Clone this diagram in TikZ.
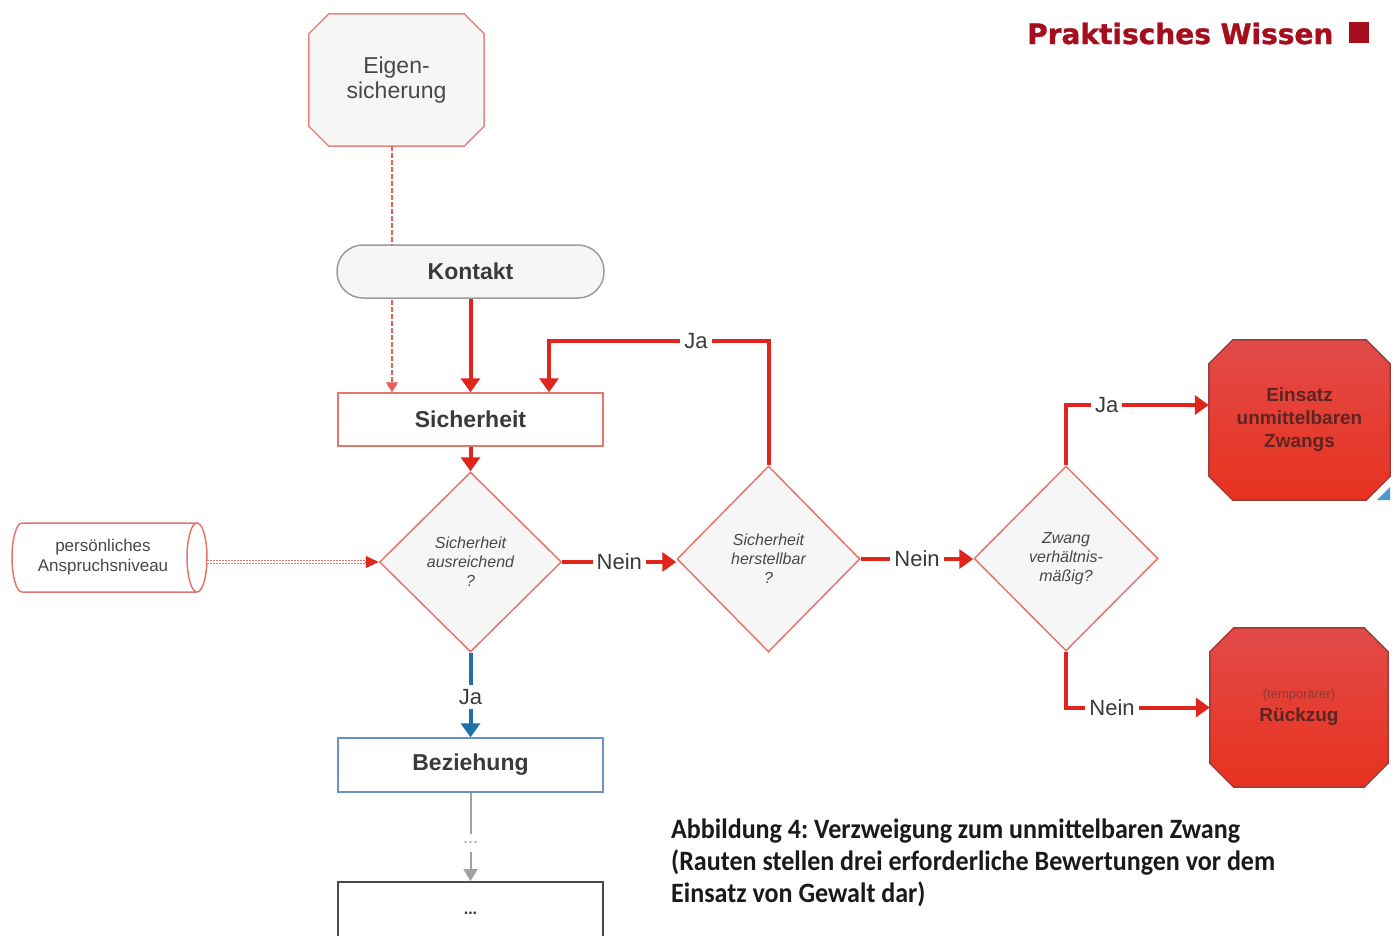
\documentclass[tikz,border=0pt]{standalone}
\usepackage{fontspec}
\setmainfont{Liberation Sans}
\newfontfamily\hdrfont[BoldFeatures={FakeBold=1.2}]{DejaVu Sans}
\newfontfamily\capfont[FakeStretch=0.93]{Carlito}
\usetikzlibrary{shapes.geometric,arrows.meta,calc,backgrounds}
\definecolor{lnred}{HTML}{E0261C}
\definecolor{salmon}{HTML}{E4776D}
\definecolor{salmonl}{HTML}{E8857E}
\definecolor{txtgray}{HTML}{3A3A3A}
\definecolor{diatxt}{HTML}{484848}
\definecolor{lightfill}{HTML}{F6F6F6}
\definecolor{kgray}{HTML}{9C9C9C}
\definecolor{bluel}{HTML}{1F6FA8}
\definecolor{bezblue}{HTML}{6C93BD}
\definecolor{hdrred}{HTML}{A50E1D}
\definecolor{octtop}{HTML}{E24A48}
\definecolor{octbot}{HTML}{E8321F}
\definecolor{octline}{HTML}{9A3E3A}
\definecolor{octtxt}{HTML}{5E2422}
\definecolor{octtxtl}{HTML}{8A3A36}
\definecolor{bluetri}{HTML}{4D96D0}
\definecolor{grayln}{HTML}{A0A0A0}
\definecolor{botline}{HTML}{4A4A4A}
\definecolor{captxt}{HTML}{1A1A1A}
\newcommand\octagon[3]{\path[#3] ($(#1.north west)+(#2,0pt)$) -- ($(#1.north east)+(-#2,0pt)$) -- ($(#1.north east)+(0pt,-#2)$) -- ($(#1.south east)+(0pt,#2)$) -- ($(#1.south east)+(-#2,0pt)$) -- ($(#1.south west)+(#2,0pt)$) -- ($(#1.south west)+(0pt,#2)$) -- ($(#1.north west)+(0pt,-#2)$) -- cycle;}
\begin{document}
\begin{tikzpicture}[x=1pt,y=-1pt,
  every node/.style={inner sep=0pt},
  box/.style={rectangle, minimum width=265pt, minimum height=53pt, font=\fontsize{23}{26}\selectfont\bfseries, text=txtgray, line width=1.5pt},
  dia/.style={diamond, draw=salmon, fill=lightfill, line width=1.5pt, align=center, font=\fontsize{16}{19}\selectfont\itshape, text=diatxt},
  redarrow/.style={draw=lnred, line width=4pt, -{Triangle[width=19pt,length=14pt]}},
  lbl/.style={fill=white, inner sep=4pt, font=\fontsize{22}{24}\selectfont, text=txtgray},
  octshape/.style={rectangle, align=center},
]
\useasboundingbox (0,0) rectangle (1394,935);
% nodes
\node[octshape, minimum width=175pt, minimum height=132pt, font=\fontsize{23}{25}\selectfont, text=diatxt] (eig) at (396.5,80) {Eigen-\\sicherung};
\node[box, draw=kgray, fill=lightfill, rounded corners=26pt, minimum width=267pt] (kon) at (470.5,271.5) {Kontakt};
\node[box, draw=salmon, fill=white] (sich) at (470.5,419.5) {Sicherheit};
\node[dia, minimum width=182pt, minimum height=180pt] (d1) at (470.5,562) {Sicherheit\\ausreichend\\?};
\node[dia, minimum width=183pt, minimum height=186pt] (d2) at (768.5,559) {Sicherheit\\herstellbar\\?};
\node[dia, minimum width=184pt, minimum height=185pt] (d3) at (1066,558.5) {Zwang\\verhältnis-\\mäßig?};
\node[rectangle, minimum width=182pt, minimum height=69pt, align=center, font=\fontsize{17}{20}\selectfont, text=diatxt] (cyl) at (103,557.5) {persönliches\\Anspruchsniveau};
\node[octshape, minimum width=181pt, minimum height=160pt, font=\fontsize{19}{23}\selectfont\bfseries, text=octtxt] (o1) at (1299.5,420) {Einsatz\\unmittelbaren\\Zwangs};
\node[octshape, minimum width=178pt, minimum height=159pt, font=\fontsize{19}{23}\selectfont\bfseries, text=octtxt] (o2) at (1299,707.5) {{\fontsize{13}{23}\selectfont\mdseries\color{octtxtl}(temporärer)}\\Rückzug};
\node[box, draw=bezblue, fill=white, minimum height=54pt] (bez) at (470.5,765) {Beziehung};
\node[box, draw=botline, fill=white, line width=2pt, minimum height=62pt, font=\fontsize{16}{18}\selectfont\bfseries, text depth=0pt] (bot) at (470.5,913) {...};
\node[anchor=base west, font=\hdrfont\bfseries\fontsize{28}{30}\selectfont, text=hdrred] (hdr) at (1027,44) {Praktisches Wissen};
\fill[hdrred] (1349,22) rectangle (1369,43);
\node[anchor=base west, align=left, font=\capfont\bfseries\fontsize{28}{32}\selectfont\frenchspacing, text=captxt] (cap) at (671,902) {Abbildung 4: Verzweigung zum unmittelbaren Zwang\\(Rauten stellen drei erforderliche Bewertungen vor dem\\Einsatz von Gewalt dar)};
\coordinate (jt) at (549,341);
% background shapes
\begin{scope}[on background layer]
\fill[white] (0,0) rectangle (1394,935);
\octagon{eig}{20pt}{draw=salmonl, fill=lightfill, line width=1.5pt}
\octagon{o1}{24pt}{draw=octline, top color=octtop, bottom color=octbot, line width=1.5pt}
\octagon{o2}{24pt}{draw=octline, top color=octtop, bottom color=octbot, line width=1.5pt}
\path[draw=salmon, fill=white, line width=1.5pt] (22,523) -- (197,523) arc[start angle=90, end angle=-90, x radius=10pt, y radius=34.5pt] -- (22,592) arc[start angle=270, end angle=90, x radius=10pt, y radius=34.5pt] -- cycle;
\draw[salmon, line width=1.5pt] (197,523) arc[start angle=90, end angle=270, x radius=10pt, y radius=34.5pt];
\draw[salmon!80!red, line width=1.2pt, dash pattern=on 5pt off 2pt, -{Triangle[width=12pt,length=10pt]}] ([xshift=-4.5pt]eig.south) -- ([xshift=-78.5pt]sich.north);
\end{scope}
\fill[bluetri] (1390,487) -- (1390,500) -- (1377,500) -- cycle;
% connectors
\draw[redarrow] (kon.south) -- (sich.north);
\draw[redarrow] (sich.south) -- (d1.north);
\draw[redarrow] (d1.east) -- node[lbl]{Nein} (d1.east -| d2.west);
\draw[redarrow] (d2.east) -- node[lbl]{Nein} (d2.east -| d3.west);
\draw[redarrow] (d2.north) |- node[lbl,pos=0.665]{Ja} (jt) -- (jt |- sich.north);
\draw[redarrow] (d3.north) |- node[lbl,pos=0.643]{Ja} ([yshift=15pt]o1.west);
\draw[redarrow] (d3.south) |- node[lbl,pos=0.66]{Nein} (o2.west);
\draw[draw=bluel, line width=4pt, -{Triangle[width=19pt,length=14pt]}] (d1.south) -- node[lbl, yshift=-2pt]{Ja} (bez.north);
\draw[draw=grayln, line width=2pt, -{Triangle[width=14pt,length=12pt]}] (bez.south) -- node[fill=white, inner sep=8pt, yshift=-6pt, font=\fontsize{18}{18}\selectfont, text=grayln]{...} (bot.north);
\draw[salmon, line width=1pt, dash pattern=on 1.5pt off 1.5pt, double=white, double distance=2.5pt] ([xshift=13pt]cyl.east |- d1.west) -- ([xshift=-14pt]d1.west);
\draw[lnred, line width=1pt, -{Triangle[width=12pt,length=13pt]}] ([xshift=-14pt]d1.west) -- (d1.west);
\end{tikzpicture}
\end{document}
